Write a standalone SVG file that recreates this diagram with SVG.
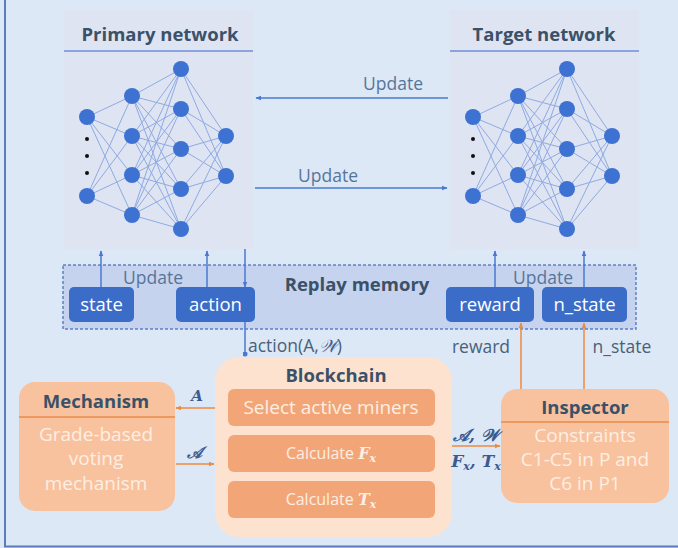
<svg xmlns="http://www.w3.org/2000/svg" xmlns:xlink="http://www.w3.org/1999/xlink" width="678" height="548" viewBox="0 0 678 548">
<style>
.title{font-family:"Open Sans","Noto Sans","Liberation Sans",sans-serif;font-weight:bold;font-size:18.5px;fill:#3b5168;text-anchor:middle}
.upd{font-family:"Open Sans","Noto Sans","Liberation Sans",sans-serif;font-size:17.5px;fill:#56759a;text-anchor:middle}
.lbl{font-family:"Open Sans","Noto Sans","Liberation Sans",sans-serif;font-size:17.5px;fill:#4a6078}
.btxt{font-family:"Open Sans","Noto Sans","Liberation Sans",sans-serif;font-size:18.5px;fill:#ffffff;text-anchor:middle}
.otxt{font-family:"Open Sans","Noto Sans","Liberation Sans",sans-serif;font-size:19px;fill:#fdeee3;text-anchor:middle}
.math{font-family:"DejaVu Serif","Liberation Serif",serif;font-style:italic;font-weight:bold;fill:#3d5a90}
.panel{fill:#dfe4f3}
.sep{stroke:#6f8fd6;stroke-width:1.5}
.mem{fill:#3b6cc7}
.ob{fill:#f8c29e}
.ib{fill:#f2a677}
.bl{stroke:#4a78d0;stroke-width:1.5;fill:none}
.or{stroke:#f08a3c;stroke-width:1.5;fill:none}
.edge{stroke:#8eaae2;stroke-width:1;fill:none}
.nd{fill:#3e72d2}
</style>
<defs>
<marker id="ab" viewBox="0 0 10 10" refX="9" refY="5" markerWidth="6" markerHeight="6" markerUnits="userSpaceOnUse" orient="auto"><path d="M0 1L10 5L0 9z" fill="#4a78d0"/></marker>
<marker id="ao" viewBox="0 0 10 10" refX="9" refY="5" markerWidth="6" markerHeight="6" markerUnits="userSpaceOnUse" orient="auto"><path d="M0 1L10 5L0 9z" fill="#f08a3c"/></marker>
<marker id="db" viewBox="0 0 10 10" refX="5" refY="5" markerWidth="5" markerHeight="5" markerUnits="userSpaceOnUse"><circle cx="5" cy="5" r="5" fill="#4a78d0"/></marker>
<g id="net">
<path class="edge" d="M87 117L132 96M87 117L132 136M87 117L132 175M87 117L132 215M87 196L132 96M87 196L132 136M87 196L132 175M87 196L132 215
M132 96L181 69M132 96L181 109M132 96L181 149M132 96L181 189M132 96L181 229
M132 136L181 69M132 136L181 109M132 136L181 149M132 136L181 189M132 136L181 229
M132 175L181 69M132 175L181 109M132 175L181 149M132 175L181 189M132 175L181 229
M132 215L181 69M132 215L181 109M132 215L181 149M132 215L181 189M132 215L181 229
M181 69L226 136M181 69L226 176M181 109L226 136M181 109L226 176M181 149L226 136M181 149L226 176M181 189L226 136M181 189L226 176M181 229L226 136M181 229L226 176"/>
<g class="nd">
<circle cx="87" cy="117" r="8"/><circle cx="87" cy="196" r="8"/>
<circle cx="132" cy="96" r="8"/><circle cx="132" cy="136" r="8"/><circle cx="132" cy="175" r="8"/><circle cx="132" cy="215" r="8"/>
<circle cx="181" cy="69" r="8"/><circle cx="181" cy="109" r="8"/><circle cx="181" cy="149" r="8"/><circle cx="181" cy="189" r="8"/><circle cx="181" cy="229" r="8"/>
<circle cx="226" cy="136" r="8"/><circle cx="226" cy="176" r="8"/>
</g>
<g fill="#111"><circle cx="87" cy="139" r="2"/><circle cx="87" cy="156" r="2"/><circle cx="87" cy="173" r="2"/></g>
</g>
</defs>
<rect x="0" y="0" width="678" height="548" fill="#dce8f6"/>
<line x1="5" y1="0" x2="5" y2="547" stroke="#5b7bbb" stroke-width="2"/>
<line x1="4" y1="546.5" x2="678" y2="546.5" stroke="#5b7bbb" stroke-width="2"/>

<g id="primary">
<rect class="panel" x="64" y="10" width="189" height="239"/>
<text class="title" x="160" y="41">Primary network</text>
<line class="sep" x1="64" y1="51" x2="253" y2="51"/>
<use xlink:href="#net"/>
</g>
<g id="target">
<rect class="panel" x="450" y="10" width="189" height="239"/>
<text class="title" x="544" y="41">Target network</text>
<line class="sep" x1="450" y1="51" x2="639" y2="51"/>
<use xlink:href="#net" transform="translate(386,0)"/>
</g>

<g id="replay">
<rect x="63" y="265" width="573" height="64" fill="#c6d3ee" stroke="#5d80c8" stroke-width="1.5" stroke-dasharray="3 2"/>
<text class="title" x="357" y="291">Replay memory</text>
<text class="upd" x="153" y="284">Update</text>
<text class="upd" x="543" y="284">Update</text>
</g>
<g id="state"><rect class="mem" x="69" y="287" width="65" height="35" rx="5"/><text class="btxt" x="101.5" y="311">state</text></g>
<g id="action"><rect class="mem" x="176" y="287" width="79" height="35" rx="5"/><text class="btxt" x="215.5" y="311">action</text></g>
<g id="reward"><rect class="mem" x="446" y="287" width="88" height="35" rx="5"/><text class="btxt" x="490" y="311">reward</text></g>
<g id="n_state"><rect class="mem" x="542" y="287" width="85" height="35" rx="5"/><text class="btxt" x="584.5" y="311">n_state</text></g>

<g id="mechanism">
<rect class="ob" x="19" y="382" width="156" height="129" rx="16"/>
<text class="title" x="96" y="408">Mechanism</text>
<line x1="19" y1="417" x2="175" y2="417" stroke="#ea8a48" stroke-width="1.5"/>
<text class="otxt" x="96" y="441">Grade-based</text>
<text class="otxt" x="96" y="465">voting</text>
<text class="otxt" x="96" y="490">mechanism</text>
</g>
<g id="blockchain">
<rect x="215" y="357" width="237" height="180" rx="24" fill="#fde2d0"/>
<text class="title" x="336" y="382">Blockchain</text>
<rect class="ib" x="228" y="389" width="207" height="37" rx="6"/>
<text class="otxt" x="331" y="414">Select active miners</text>
<rect class="ib" x="228" y="435" width="207" height="37" rx="6"/>
<text class="otxt" x="331" y="459" style="font-size:16px">Calculate <tspan style="font-family:'DejaVu Serif',serif;font-style:italic;font-weight:bold">F</tspan><tspan style="font-family:'DejaVu Serif',serif;font-style:italic;font-weight:bold;font-size:11px" dy="3">x</tspan></text>
<rect class="ib" x="228" y="481" width="207" height="37" rx="6"/>
<text class="otxt" x="331" y="505" style="font-size:16px">Calculate <tspan style="font-family:'DejaVu Serif',serif;font-style:italic;font-weight:bold">T</tspan><tspan style="font-family:'DejaVu Serif',serif;font-style:italic;font-weight:bold;font-size:11px" dy="3">x</tspan></text>
</g>
<g id="inspector">
<rect class="ob" x="501" y="389" width="168" height="114" rx="16"/>
<text class="title" x="585" y="414">Inspector</text>
<line x1="501" y1="422" x2="669" y2="422" stroke="#ea8a48" stroke-width="1.5"/>
<text class="otxt" x="585" y="442">Constraints</text>
<text class="otxt" x="585" y="466">C1-C5 in P and</text>
<text class="otxt" x="585" y="490">C6 in P1</text>
</g>

<g id="connectors">
<line class="bl" x1="448" y1="98" x2="256" y2="98" marker-end="url(#ab)"/>
<text class="upd" x="393" y="90">Update</text>
<line class="bl" x1="255" y1="188" x2="447" y2="188" marker-end="url(#ab)"/>
<text class="upd" x="328" y="182">Update</text>
<line class="bl" x1="101" y1="287" x2="101" y2="251" marker-end="url(#ab)"/>
<line class="bl" x1="207" y1="287" x2="207" y2="251" marker-end="url(#ab)"/>
<line class="bl" x1="245" y1="249" x2="245" y2="287" marker-end="url(#ab)"/>
<line class="bl" x1="245" y1="322" x2="245" y2="354" marker-end="url(#db)"/>
<text class="lbl" x="248" y="352">action(A,<tspan class="math" style="font-weight:normal">𝒲</tspan>)</text>
<line class="bl" x1="495" y1="287" x2="495" y2="251" marker-end="url(#ab)"/>
<line class="bl" x1="584" y1="287" x2="584" y2="251" marker-end="url(#ab)"/>
<line class="or" x1="521" y1="389" x2="521" y2="323" marker-end="url(#ao)"/>
<text class="lbl" x="481" y="353" text-anchor="middle">reward</text>
<line class="or" x1="584" y1="389" x2="584" y2="323" marker-end="url(#ao)"/>
<text class="lbl" x="622" y="353" text-anchor="middle">n_state</text>
<line class="or" x1="215" y1="408" x2="176" y2="408" marker-end="url(#ao)"/>
<text class="math" x="197" y="401" text-anchor="middle" font-size="15">A</text>
<line class="or" x1="176" y1="464" x2="214" y2="464" marker-end="url(#ao)"/>
<text class="math" x="194" y="458" text-anchor="middle" font-size="16">𝒜</text>
<line class="or" x1="452" y1="446" x2="500" y2="446" marker-end="url(#ao)"/>
<text class="math" x="476" y="441" text-anchor="middle" font-size="17">𝒜, 𝒲</text>
<text class="math" x="476" y="467" text-anchor="middle" font-size="17">F<tspan font-size="11" dy="3">x</tspan><tspan dy="-3">, T</tspan><tspan font-size="11" dy="3">x</tspan></text>
</g>
</svg>
